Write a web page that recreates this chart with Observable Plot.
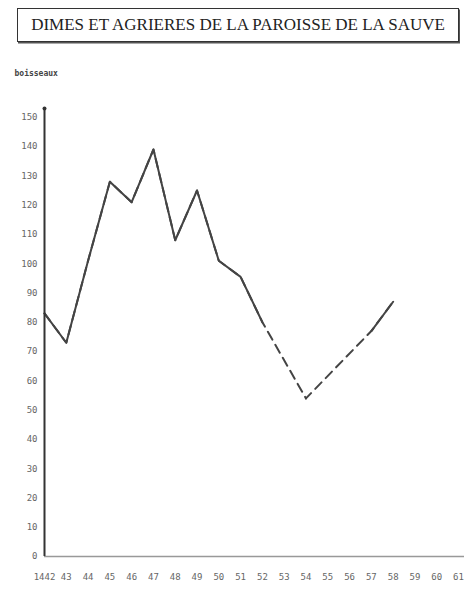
<!DOCTYPE html>
<html>
<head>
<meta charset="utf-8">
<script src="https://cdn.jsdelivr.net/npm/d3@7"></script>
<script src="https://cdn.jsdelivr.net/npm/@observablehq/plot@0.6"></script>
<style>
  html, body { margin: 0; padding: 0; background: #fff; }
  #wrap { position: relative; width: 464px; height: 589px; overflow: hidden; }
  #title {
    position: absolute; left: 17px; top: 8px; width: 440px; height: 32px;
    border: 1.5px solid #333; box-shadow: 1px 1.5px 0 #555;
    font-family: "Liberation Serif", "DejaVu Serif", serif; font-size: 17px;
    color: #222; text-align: center; line-height: 32px; letter-spacing: 0px;
  }
  #chart { position: absolute; left: 0; top: 50px; }
</style>
</head>
<body>
<div id="wrap">
  <div id="title"></div>
  <div id="chart"></div>
</div>
<script>
const titleText = "DIMES ET AGRIERES DE LA PAROISSE DE LA SAUVE";
const unitLabel = "boisseaux";
const years  = [1442, 1443, 1444, 1445, 1446, 1447, 1448, 1449, 1450, 1451, 1452, 1453, 1454, 1455, 1456, 1457, 1458];
const values = [83,   73,   101,  128,  121,  139,  108,  125,  101,  95.5, 80,   null, 54,   null, null, 77,   87];
const xTicks = [1442,1443,1444,1445,1446,1447,1448,1449,1450,1451,1452,1453,1454,1455,1456,1457,1458,1459,1460,1461];
const xTickLabels = ["1442","43","44","45","46","47","48","49","50","51","52","53","54","55","56","57","58","59","60","61"];
const yTicks = [0,10,20,30,40,50,60,70,80,90,100,110,120,130,140,150];

document.getElementById("title").textContent = titleText;

const data = years.map((y, i) => ({year: y, value: values[i]}));
const known = data.filter(d => d.value != null);

const chart = Plot.plot({
  width: 464,
  height: 539,
  marginLeft: 44,
  marginRight: 0,
  marginTop: 58,
  marginBottom: 33,
  style: {fontFamily: "DejaVu Sans Mono, monospace", fontSize: "9px", color: "#666", background: "#fff"},
  x: {domain: [1442, 1461], range: [44, 458], ticks: xTicks, tickSize: 0, tickPadding: 17,
      tickFormat: d => xTickLabels[xTicks.indexOf(d)], label: null},
  y: {domain: [0, 153], range: [506, 58], ticks: yTicks, tickSize: 0, tickPadding: 7, label: null},
  marks: [
    Plot.ruleY([0], {stroke: "#999", strokeWidth: 1.5}),
    Plot.line(known, {x: "year", y: "value", stroke: "#444", strokeWidth: 2, strokeDasharray: "9,6"}),
    Plot.line(data, {x: "year", y: "value", stroke: "#444", strokeWidth: 2}),
    Plot.ruleX([1442], {y1: 0, y2: 153, stroke: "#333", strokeWidth: 2}),
    Plot.dot([{year: 1442, value: 153}], {x: "year", y: "value", r: 2, fill: "#333"}),
    Plot.text([unitLabel], {frameAnchor: "top-left", dx: -30, dy: -38, text: d => d, fill: "#444",
      fontSize: 8, fontWeight: "bold", textAnchor: "start", fontFamily: "DejaVu Sans Mono, monospace"})
  ]
});
document.getElementById("chart").appendChild(chart);
</script>
</body>
</html>
